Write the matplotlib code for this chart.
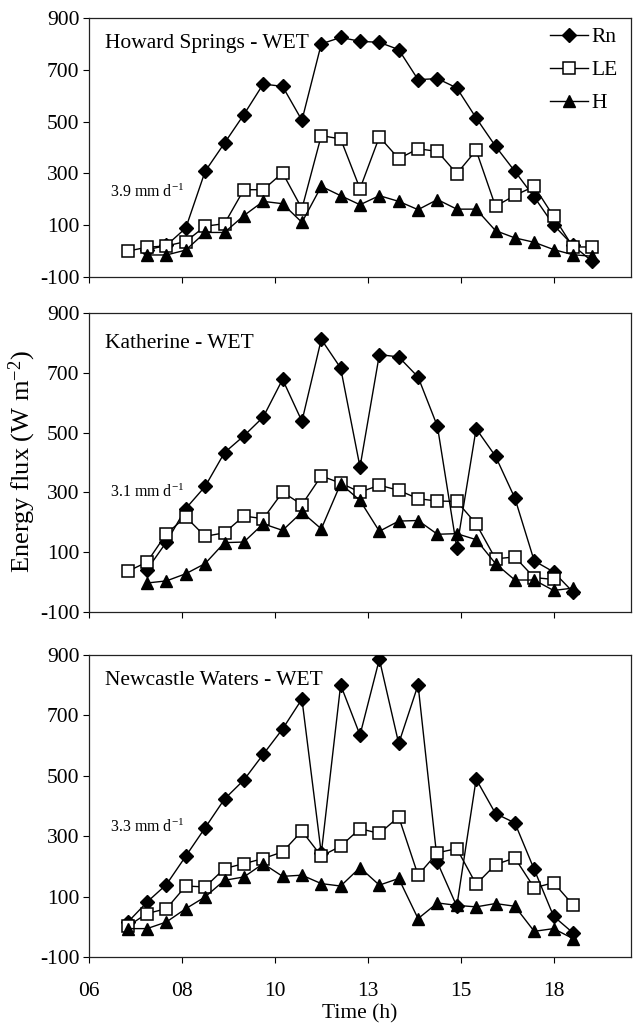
import matplotlib
matplotlib.use("Agg")
import matplotlib.pyplot as plt

plt.rcParams['font.family'] = ['Liberation Serif', 'DejaVu Serif']
plt.rcParams['mathtext.fontset'] = 'custom'
plt.rcParams['mathtext.rm'] = 'Liberation Serif'
plt.rcParams['mathtext.it'] = 'Liberation Serif:italic'

# ---------------- data ----------------
# Howard Springs
hs_t_le = [7.0, 7.5, 8.0, 8.5, 9.0, 9.5, 10.0, 10.5, 11.0, 11.5, 12.0, 12.5, 13.0,
           13.5, 14.0, 14.5, 15.0, 15.5, 16.0, 16.5, 17.0, 17.5, 18.0, 18.5, 19.0]
hs_t = [7.5, 8.0, 8.5, 9.0, 9.5, 10.0, 10.5, 11.0, 11.5, 12.0, 12.5, 13.0,
        13.5, 14.0, 14.5, 15.0, 15.5, 16.0, 16.5, 17.0, 17.5, 18.0, 18.5, 19.0]
hs_rn = [5, 22, 89, 308, 417, 527, 645, 636, 505, 800, 825, 810, 806, 778, 662, 666,
         630, 514, 405, 308, 209, 101, 22, -40]
hs_le = [0, 15, 20, 37, 96, 106, 237, 237, 302, 164, 446, 433, 241, 441, 357, 395,
         385, 299, 389, 173, 215, 250, 134, 16, 16]
hs_h = [-15, -15, 4, 72, 72, 137, 192, 183, 111, 250, 214, 179, 214, 192, 160, 199,
        162, 162, 79, 51, 34, 6, -14, -20]

# Katherine
ka_t_le = [7.0, 7.5, 8.0, 8.5, 9.0, 9.5, 10.0, 10.5, 11.0, 11.5, 12.0, 12.5, 13.0,
           13.5, 14.0, 14.5, 15.0, 15.5, 16.0, 16.5, 17.0, 17.5, 18.0]
ka_t = [7.5, 8.0, 8.5, 9.0, 9.5, 10.0, 10.5, 11.0, 11.5, 12.0, 12.5, 13.0,
        13.5, 14.0, 14.5, 15.0, 15.5, 16.0, 16.5, 17.0, 17.5, 18.0, 18.5]
ka_rn = [42, 134, 246, 320, 433, 489, 552, 678, 538, 812, 716, 385, 761, 753, 686,
         521, 115, 513, 421, 281, 71, 34, -33]
ka_le = [36, 67, 162, 218, 153, 165, 221, 212, 301, 259, 355, 331, 301, 324, 307,
         279, 271, 270, 195, 78, 84, 15, 9]
ka_h = [-3, 4, 28, 62, 132, 134, 195, 173, 234, 178, 329, 273, 170, 204, 206, 160,
        162, 142, 62, 7, 7, -28, -20]

# Newcastle Waters
nw_t = [7.0, 7.5, 8.0, 8.5, 9.0, 9.5, 10.0, 10.5, 11.0, 11.5, 12.0, 12.5, 13.0,
        13.5, 14.0, 14.5, 15.0, 15.5, 16.0, 16.5, 17.0, 17.5, 18.0, 18.5]
nw_rn = [15, 82, 140, 234, 328, 423, 486, 571, 655, 754, 243, 801, 635, 886, 607,
         801, 213, 68, 489, 375, 344, 190, 35, -20]
nw_le = [2, 44, 60, 135, 132, 193, 209, 226, 248, 317, 234, 267, 325, 309, 364, 171,
         245, 259, 141, 206, 228, 129, 146, 73]
nw_h = [-6, -6, 16, 60, 99, 154, 165, 209, 167, 171, 143, 135, 196, 138, 160, 27,
        79, 71, 66, 77, 68, -15, -6, -39]

titles = ["Howard Springs - WET", "Katherine - WET", "Newcastle Waters - WET"]
et_labels = ["3.9", "3.1", "3.3"]
x_ticks = [6.0, 8.4, 10.8, 13.2, 15.6, 18.0]
x_ticklabels = ["06", "08", "10", "13", "15", "18"]
y_ticks = [-100, 100, 300, 500, 700, 900]

panels = [
    (hs_t, hs_rn, hs_t_le, hs_le, hs_t, hs_h),
    (ka_t, ka_rn, ka_t_le, ka_le, ka_t, ka_h),
    (nw_t, nw_rn, nw_t, nw_le, nw_t, nw_h),
]

# ---------------- layout ----------------
W, H = 637, 1027
fig = plt.figure(figsize=(W / 100, H / 100), dpi=100)
left, right = 89 / W, 631 / W
boxes = [(18, 277), (313, 612), (655, 957)]  # top, bottom in px
title_y = [803, 797, 814]
et_y = [228, 300, 328]

FS = 15.5
axes = []
for i, (top, bot) in enumerate(boxes):
    ax = fig.add_axes([left, 1 - bot / H, right - left, (bot - top) / H])
    axes.append(ax)
    trn, rn, tle, le, th, hh = panels[i]
    lw = 1.0
    ax.plot(trn, rn, color='black', lw=lw, marker='D', ms=7,
            mfc='black', mec='black', label='Rn', zorder=3)
    ax.plot(tle, le, color='black', lw=lw, marker='s', ms=8,
            mfc='white', mec='black', mew=1.1, label='LE', zorder=4)
    ax.plot(th, hh, color='black', lw=lw, marker='^', ms=8.5,
            mfc='black', mec='black', label='H', zorder=5)
    ax.set_xlim(6, 20)
    ax.set_ylim(-100, 900)
    ax.set_yticks(y_ticks)
    ax.set_yticklabels([str(v) for v in y_ticks])
    ax.set_xticks(x_ticks)
    ax.tick_params(direction='out', length=4, width=0.8, labelsize=FS, pad=3)
    ax.tick_params(axis='x', pad=14)
    for s in ax.spines.values():
        s.set_linewidth(0.9)
        s.set_color('#222222')
    if i < 2:
        ax.set_xticklabels([])
    else:
        ax.set_xticklabels(x_ticklabels)
        ax.set_xlabel("Time (h)", fontsize=FS, labelpad=2)
    ax.text(6.42, title_y[i], titles[i], fontsize=FS, va='center', ha='left')
    ax.text(6.55, et_y[i], et_labels[i] + " mm d$^{-1}$", fontsize=11.5,
            va='center', ha='left')

leg = axes[0].legend(loc='upper left', bbox_to_anchor=(0.85, 0.965),
                     frameon=False, fontsize=FS, handlelength=1.8,
                     handletextpad=0.15, labelspacing=0.6, borderpad=0,
                     borderaxespad=0)

fig.text(0.035, 1 - 462 / H, "Energy flux (W m$^{-2}$)", rotation=90,
         fontsize=19, ha='center', va='center')

fig.savefig("out.png", dpi=100)
